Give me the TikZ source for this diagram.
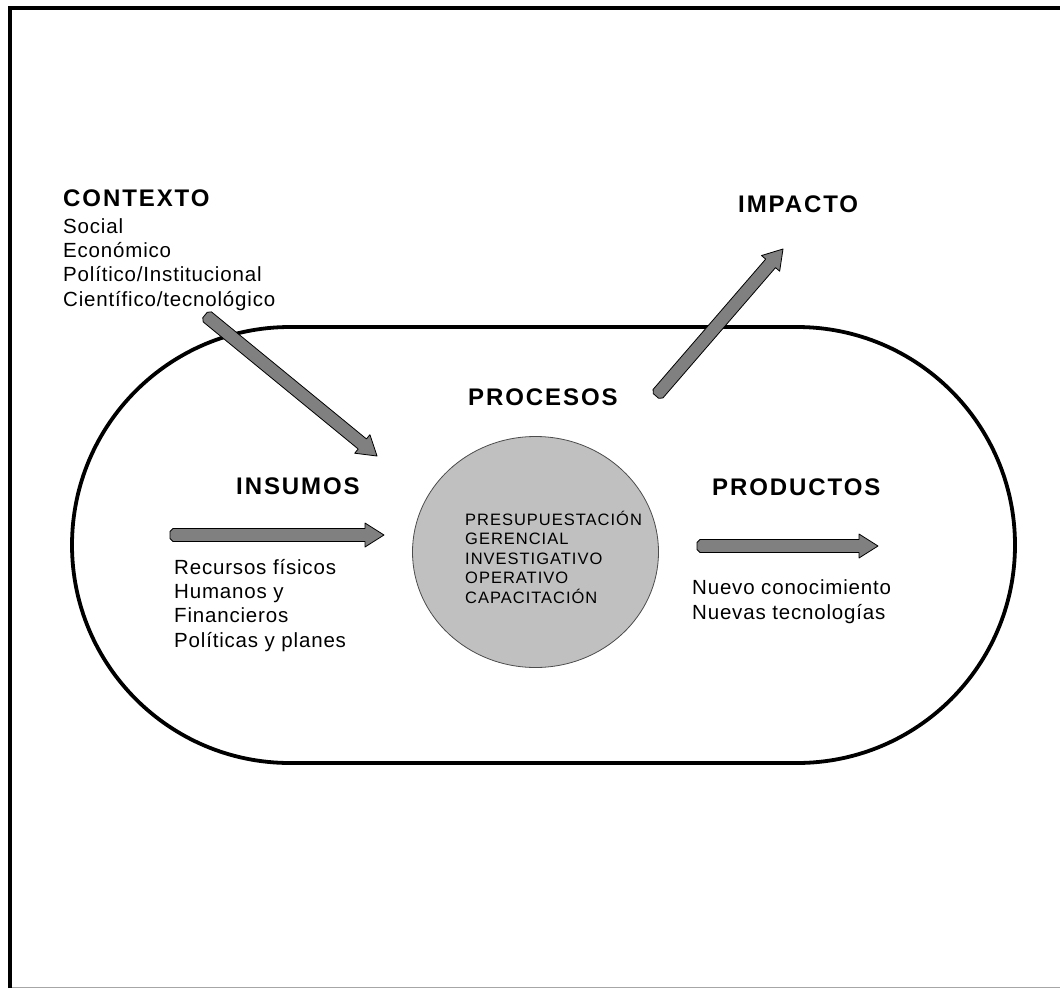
\documentclass[tikz,border=0pt]{standalone}
\usepackage{fontspec}
\setmainfont{Liberation Sans}
\newfontfamily\headf[LetterSpace=8]{Liberation Sans}
\newfontfamily\bodyf[LetterSpace=4]{Liberation Sans}
\newfontfamily\circf[LetterSpace=6]{Liberation Sans}
\usetikzlibrary{calc,shapes.misc,shapes.geometric}
\definecolor{arrgray}{HTML}{808080}
\definecolor{circgray}{HTML}{C0C0C0}
\tikzset{
  head/.style={anchor=base west, inner sep=0pt, font=\headf\bfseries\fontsize{24}{28}\selectfont},
  body/.style={anchor=base west, inner sep=0pt, align=left, font=\bodyf\fontsize{20.5}{24.4}\selectfont},
  circtext/.style={anchor=base west, inner sep=0pt, align=left, font=\circf\fontsize{16.5}{19.5}\selectfont},
  fatarr/.style={draw=black, line width=0.8pt, fill=arrgray, line join=round},
}
\newcommand\fatarrow[2]{%
  \coordinate (t1) at ($(#1)!3pt!(#2)$);
  \coordinate (h1) at ($(#2)!19pt!(#1)$);
  \draw[fatarr] ($(#1)!3.5pt!90:(#2)$) -- ($(t1)!6.5pt!90:(#2)$) -- ($(h1)!6.5pt!-90:(#1)$) -- ($(h1)!12pt!-90:(#1)$) -- (#2) -- ($(h1)!12pt!90:(#1)$) -- ($(h1)!6.5pt!90:(#1)$) -- ($(t1)!6.5pt!-90:(#2)$) -- ($(#1)!3.5pt!-90:(#2)$) -- cycle;}
\begin{document}
\begin{tikzpicture}[x=1pt,y=-1pt]
\useasboundingbox (0,0) rectangle (1060,988);
% frame
\draw[line width=4pt] (10,988) -- (10,8) -- (1060,8);
\draw[black!35, line width=1pt] (12,987.5) -- (1060,987.5);
% stadium
\node[rounded rectangle, draw, line width=3.8pt, minimum width=943pt, minimum height=436pt, inner sep=0pt] (stad) at (543.5,545) {};
% central ellipse
\node[ellipse, draw=black!70, line width=0.8pt, fill=circgray, minimum width=246pt, minimum height=231pt, inner sep=0pt] (proc) at (535.5,552) {};
\node[circtext] (proctext) at (465,603) {PRESUPUESTACIÓN\\GERENCIAL\\INVESTIGATIVO\\OPERATIVO\\CAPACITACIÓN};
% headings
\node[head] (ctx) at (63,206) {CONTEXTO};
\node[body] (ctxl) at (63,306.2) {Social\\Económico\\Político/Institucional\\Científico/tecnológico};
\node[head] (imp) at (738,212) {IMPACTO};
\node[head] (procs) at (468,405) {PROCESOS};
\node[head] (ins) at (236,494) {INSUMOS};
\node[body] (insl) at (174,647.2) {Recursos físicos\\Humanos y\\Financieros\\Políticas y planes};
\node[head] (prod) at (712,495) {PRODUCTOS};
\node[body] (prodl) at (692,619) {Nuevo conocimiento\\Nuevas tecnologías};
% arrow end points
\coordinate (insA) at (170,535);
\coordinate (insB) at (384,535);
\coordinate (prodA) at (697,546);
\coordinate (prodB) at (878,546);
\coordinate (ctxA) at (205,315);
\coordinate (ctxB) at (377,456);
\coordinate (impA) at (656,396);
\coordinate (impB) at (783,249);
\fatarrow{insA}{insB}
\fatarrow{prodA}{prodB}
\fatarrow{ctxA}{ctxB}
\fatarrow{impA}{impB}
\end{tikzpicture}
\end{document}
